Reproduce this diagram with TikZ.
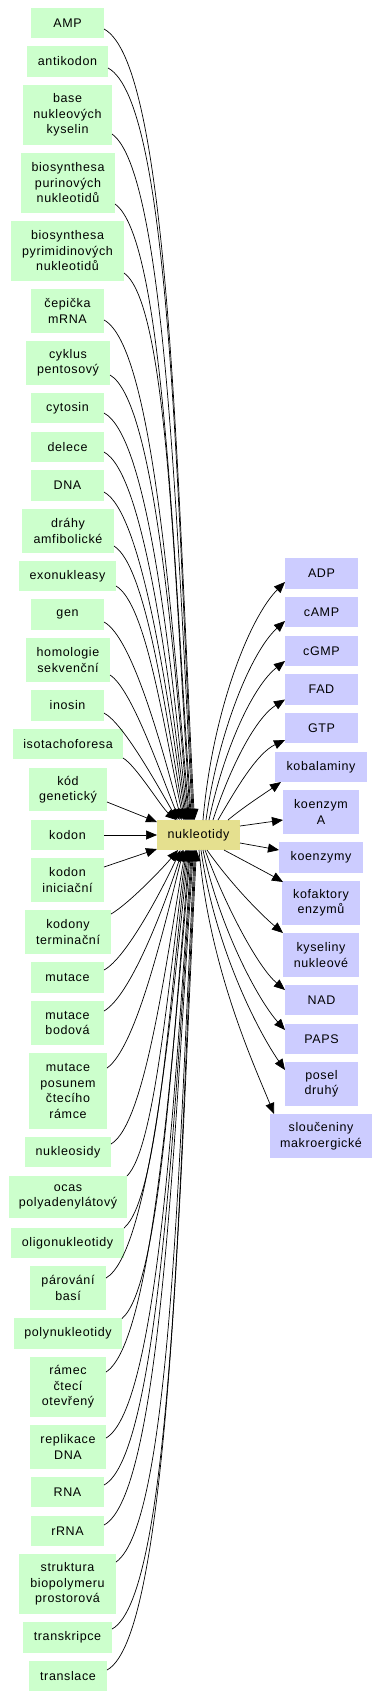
\documentclass[tikz,border=0pt]{standalone}
\usepackage{fontspec}
\setmainfont{Liberation Sans}[LetterSpace=5]
\usetikzlibrary{arrows.meta}
\definecolor{lgreen}{RGB}{204,255,204}
\definecolor{lblue}{RGB}{204,204,255}
\definecolor{hubc}{RGB}{229,224,143}
\newcommand\mkbox[7]{\node[#1, minimum width={#4pt-#3pt}, minimum height={#6pt-#5pt}] (#2) at ({(#3+#4)/2},{-(#5+#6)/2}) {#7};}
\begin{document}
\begin{tikzpicture}[x=1pt,y=1pt,
  font=\fontsize{12.5}{15.5}\selectfont,
  box/.style={draw=none, inner sep=0pt, outer sep=0pt, align=center, anchor=center},
  lb/.style={box, fill=lgreen},
  rb/.style={box, fill=lblue},
  hb/.style={box, fill=hubc},
  arr/.style={draw=black, line width=0.7pt, -{Triangle[length=11pt,width=9pt]}}]
\fill[white] (0,0) rectangle (380,-1698);
\useasboundingbox (0,0) rectangle (380,-1698);
% left nodes
\mkbox{lb}{amp}{31}{104}{8}{38}{AMP}
\mkbox{lb}{anti}{27}{108}{46}{77}{antikodon}
\mkbox{lb}{base}{23}{112}{85}{145}{base\\nukleových\\kyselin}
\mkbox{lb}{bpur}{21}{115}{153}{213}{biosynthesa\\purinových\\nukleotidů}
\mkbox{lb}{bpyr}{11}{124}{221}{281}{biosynthesa\\pyrimidinových\\nukleotidů}
\mkbox{lb}{cep}{31}{104}{289}{333}{čepička\\mRNA}
\mkbox{lb}{cyk}{26}{110}{341}{385}{cyklus\\pentosový}
\mkbox{lb}{cyt}{31}{104}{393}{423}{cytosin}
\mkbox{lb}{del}{31}{104}{432}{462}{delece}
\mkbox{lb}{dna}{31}{104}{470}{501}{DNA}
\mkbox{lb}{dra}{22}{114}{509}{553}{dráhy\\amfibolické}
\mkbox{lb}{exo}{19}{116}{561}{591}{exonukleasy}
\mkbox{lb}{gen}{31}{104}{599}{630}{gen}
\mkbox{lb}{hom}{26}{110}{638}{682}{homologie\\sekvenční}
\mkbox{lb}{ino}{31}{104}{690}{721}{inosin}
\mkbox{lb}{iso}{13}{123}{729}{759}{isotachoforesa}
\mkbox{lb}{kod}{29}{107}{768}{811}{kód\\genetický}
\mkbox{lb}{kodon}{31}{104}{820}{850}{kodon}
\mkbox{lb}{kini}{31}{104}{858}{902}{kodon\\iniciační}
\mkbox{lb}{kter}{25}{111}{910}{954}{kodony\\terminační}
\mkbox{lb}{mut}{31}{104}{962}{993}{mutace}
\mkbox{lb}{mbod}{31}{104}{1001}{1045}{mutace\\bodová}
\mkbox{lb}{mpos}{29}{107}{1053}{1129}{mutace\\posunem\\čtecího\\rámce}
\mkbox{lb}{nsid}{25}{111}{1137}{1167}{nukleosidy}
\mkbox{lb}{ocas}{9}{127}{1176}{1218}{ocas\\polyadenylátový}
\mkbox{lb}{olig}{11}{124}{1228}{1258}{oligonukleotidy}
\mkbox{lb}{par}{30}{106}{1266}{1310}{párování\\basí}
\mkbox{lb}{poly}{14}{122}{1318}{1349}{polynukleotidy}
\mkbox{lb}{ram}{30}{106}{1357}{1417}{rámec\\čtecí\\otevřený}
\mkbox{lb}{rep}{30}{106}{1425}{1469}{replikace\\DNA}
\mkbox{lb}{rna}{31}{104}{1477}{1507}{RNA}
\mkbox{lb}{rrna}{31}{104}{1516}{1546}{rRNA}
\mkbox{lb}{str}{19}{116}{1554}{1614}{struktura\\biopolymeru\\prostorová}
\mkbox{lb}{trk}{23}{112}{1622}{1653}{transkripce}
\mkbox{lb}{trl}{29}{107}{1661}{1691}{translace}
% hub
\mkbox{hb}{hub}{157}{240}{820}{850}{nukleotidy}
% right nodes
\mkbox{rb}{adp}{285}{358}{558}{589}{ADP}
\mkbox{rb}{camp}{285}{358}{597}{627}{cAMP}
\mkbox{rb}{cgmp}{285}{358}{636}{666}{cGMP}
\mkbox{rb}{fad}{285}{358}{674}{705}{FAD}
\mkbox{rb}{gtp}{285}{358}{713}{743}{GTP}
\mkbox{rb}{kob}{275}{367}{752}{782}{kobalaminy}
\mkbox{rb}{koa}{283}{359}{790}{834}{koenzym\\A}
\mkbox{rb}{koe}{279}{363}{842}{873}{koenzymy}
\mkbox{rb}{kof}{282}{360}{881}{925}{kofaktory\\enzymů}
\mkbox{rb}{kys}{283}{359}{933}{977}{kyseliny\\nukleové}
\mkbox{rb}{nad}{285}{358}{985}{1015}{NAD}
\mkbox{rb}{paps}{285}{358}{1024}{1054}{PAPS}
\mkbox{rb}{pos}{285}{358}{1062}{1106}{posel\\druhý}
\mkbox{rb}{slo}{270}{372}{1114}{1158}{sloučeniny\\makroergické}
% edges from upper left nodes into the hub top
\foreach \n/\sy/\ex/\oa/\od/\ia/\id in {
  amp/-6/-4/-28/75/93/330, anti/-6.5/-5/-28/72/93/315,
  base/-19/-6/-35/65/93/285, bpur/-21/-7/-35/60/94/255,
  bpyr/-22/-8/-35/55/94/225, cep/-9/-9/-28/55/95/205,
  cyk/-12/-10/-30/50/95/185, cyt/-5/-11/-28/50/96/165,
  del/-5/-12/-28/45/97/150, dna/-6.5/-13/-28/42/98/135,
  dra/-15/-14/-32/38/100/110, exo/-10/-15/-30/35/102/95,
  gen/-7.5/-17/-28/32/105/75, hom/-15/-19/-32/25/112/55,
  ino/-7.5/-21/-28/22/120/40, iso/-14/-22/-30/15/140/20}
  \draw[arr] ([yshift=\sy pt]\n.east) to[out=\oa,in=\ia,out distance=\od pt,in distance=\id pt] ([xshift=\ex pt]hub.north);
% direct edges
\draw[arr] ([yshift=-12.5pt]kod.east) -- ([yshift=13pt]hub.west);
\draw[arr] (kodon.east) -- (hub.west);
\draw[arr] ([yshift=13pt]kini.east) -- ([yshift=-14pt]hub.west);
% edges from lower left nodes into the hub bottom
\foreach \n/\sy/\ex/\oa/\od/\ia/\id in {
  kter/18/-20.5/30/20/-130/25, mut/7.5/-18/28/25/-115/45,
  mbod/12/-16/30/30/-108/65, mpos/23/-15/35/35/-104/85,
  nsid/8/-13/30/40/-100/110, ocas/21/-12/45/40/-98/130,
  olig/15/-11/40/45/-97/150, par/10/-10/30/50/-96/170,
  poly/15/-9/40/50/-95/190, ram/15/-8/32/55/-95/210,
  rep/9/-7/30/60/-94/235, rna/7/-6/28/62/-94/255,
  rrna/6/-5/28/65/-94/270, str/22/-4/35/68/-93/290,
  trk/8.5/-3/28/70/-93/310, trl/6/-2/28/72/-93/325}
  \draw[arr] ([yshift=\sy pt]\n.east) to[out=\oa,in=\ia,out distance=\od pt,in distance=\id pt] ([xshift=\ex pt]hub.south);
% edges from the hub to the right nodes
\draw[arr] ([xshift=4.5pt]hub.north) to[out=85,in=225,out distance=110pt,in distance=50pt] ([yshift=-8.5pt]adp.west);
\draw[arr] ([xshift=7.5pt]hub.north) to[out=82,in=222,out distance=90pt,in distance=45pt] ([yshift=-9pt]camp.west);
\draw[arr] ([xshift=10.5pt]hub.north) to[out=78,in=218,out distance=75pt,in distance=40pt] ([yshift=-10pt]cgmp.west);
\draw[arr] ([xshift=14.5pt]hub.north) to[out=72,in=212,out distance=55pt,in distance=35pt] ([yshift=-10pt]fad.west);
\draw[arr] ([xshift=19.5pt]hub.north) to[out=60,in=205,out distance=40pt,in distance=30pt] ([yshift=-12pt]gtp.west);
\draw[arr] ([xshift=29.5pt]hub.north) to[out=40,in=215,out distance=20pt,in distance=20pt] ([xshift=6pt]kob.south west);
\draw[arr] ([yshift=9pt]hub.east) -- ([yshift=-8pt]koa.west);
\draw[arr] ([yshift=-8pt]hub.east) -- ([yshift=7.5pt]koe.west);
\draw[arr] ([xshift=25.5pt]hub.south) to[out=-28,in=150,out distance=15pt,in distance=15pt] ([xshift=1pt,yshift=-1pt]kof.north west);
\draw[arr] ([xshift=8.5pt]hub.south) to[out=-55,in=140,out distance=40pt,in distance=30pt] (kys.north west);
\draw[arr] ([xshift=6.5pt]hub.south) to[out=-70,in=140,out distance=60pt,in distance=35pt] ([yshift=10pt]nad.west);
\draw[arr] ([xshift=4.5pt]hub.south) to[out=-78,in=132,out distance=80pt,in distance=40pt] ([yshift=9pt]paps.west);
\draw[arr] ([xshift=2.5pt]hub.south) to[out=-82,in=125,out distance=100pt,in distance=45pt] ([yshift=14pt]pos.west);
\draw[arr] ([xshift=0.5pt]hub.south) to[out=-85,in=112,out distance=120pt,in distance=50pt] ([xshift=4pt]slo.north west);
\end{tikzpicture}
\end{document}
